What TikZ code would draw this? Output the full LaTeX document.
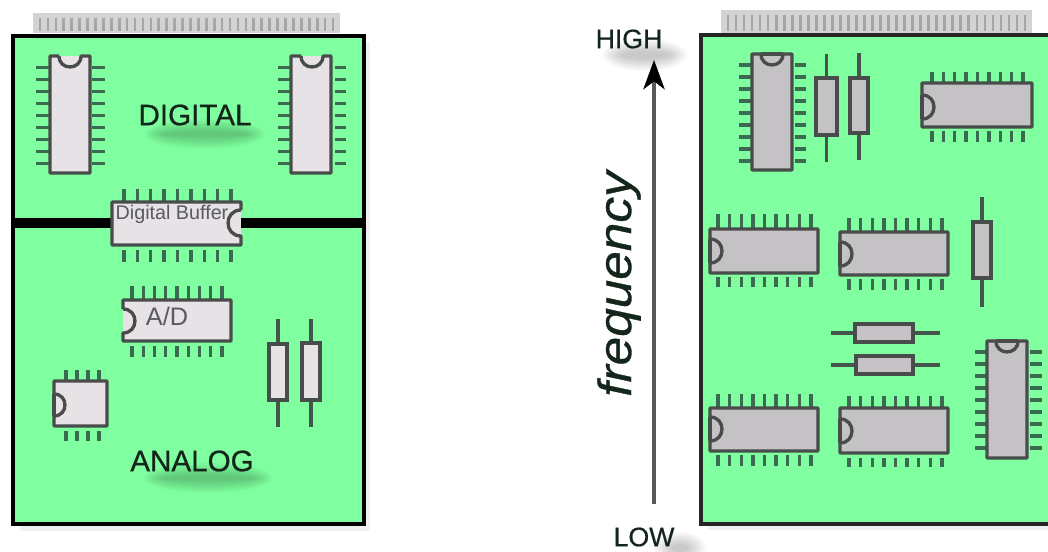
\documentclass[tikz,border=0pt]{standalone}
\usepackage{fontspec}
\setmainfont{Liberation Sans}
\newfontfamily\heavysans[FakeBold=0.7]{Liberation Sans}
\usetikzlibrary{arrows.meta}
\definecolor{boardgreen}{HTML}{7FFF9F}
\definecolor{chipPale}{HTML}{E6E2E6}
\definecolor{chipSlate}{HTML}{C4C2C4}
\definecolor{chipInk}{HTML}{484C4A}
\definecolor{pinInk}{HTML}{3A6A50}
\definecolor{stripGray}{HTML}{D4D2D4}
\definecolor{tickGray}{HTML}{A6A6A6}
\definecolor{labelInk}{HTML}{14261C}
\definecolor{chipText}{HTML}{5A5A62}
\tikzset{
  x=0.75pt,y=-0.75pt,
  board/.style={draw=black,line width=3.7pt,fill=boardgreen,line join=miter},
  boardline/.style={draw=black!85,line width=2.6pt},
  chipline/.style={draw=chipInk,line width=2.5pt},
  paleedge/.style={draw=none},
  slateedge/.style={},
  palerimedge/.style={},
  pale/.style={fill=chipPale},
  palerim/.style={fill=chipPale},
  slate/.style={fill=chipSlate},
  pin/.style={draw=pinInk,line width=2.6pt},
  lead/.style={draw=chipInk!70!pinInk,line width=2.7pt},
  strip/.style={fill=stripGray},
  tick/.style={draw=tickGray,line width=2pt},
  biglabel/.style={text=labelInk,inner sep=0pt,font=\fontsize{22.2}{26}\heavysans},
  sidelabel/.style={text=labelInk,inner sep=0pt,font=\fontsize{20}{24}\heavysans},
  inchip/.style={text=chipText,inner sep=0pt},
  axisline/.style={draw=black!65,line width=2.3pt},
}
% x0 y0 x1 y1 centre radius look(pale|slate)
\newcommand\bodyL[7]{%
  \fill[#7] (#1,#2) rectangle (#3,#4);
  \draw[chipline,line join=round] (#1,#5-#6) -- (#1,#2) -- (#3,#2) -- (#3,#4) -- (#1,#4) -- (#1,#5+#6)
    .. controls (#1+1.33*#6,#5+#6) and (#1+1.33*#6,#5-#6) .. (#1,#5-#6);
  \draw[chipline,#7edge] (#1,#5-#6) -- (#1,#5+#6);}
\newcommand\bodyR[7]{%
  \fill[#7] (#1,#2) rectangle (#3,#4);
  \draw[chipline,line join=round] (#3,#5-#6) -- (#3,#2) -- (#1,#2) -- (#1,#4) -- (#3,#4) -- (#3,#5+#6)
    .. controls (#3-1.33*#6,#5+#6) and (#3-1.33*#6,#5-#6) .. (#3,#5-#6);}
\newcommand\bodyT[7]{%
  \fill[#7] (#1,#2) rectangle (#3,#4);
  \draw[chipline,line join=round] (#5-#6,#2) -- (#1,#2) -- (#1,#4) -- (#3,#4) -- (#3,#2) -- (#5+#6,#2)
    .. controls (#5+#6,#2+1.33*#6) and (#5-#6,#2+1.33*#6) .. (#5-#6,#2);
  \draw[chipline,#7edge] (#5-#6,#2) -- (#5+#6,#2);}
% rows of pins: x0 x1 n y0 y1  /  columns: y0 y1 n x0 x1
\newcommand\pinrow[5]{\pgfmathtruncatemacro\nn{#3-1}%
  \foreach \i in {0,...,\nn}{\draw[pin] ({#1+(#2-#1)*\i/\nn},#4) -- ({#1+(#2-#1)*\i/\nn},#5);}}
\newcommand\pincol[5]{\pgfmathtruncatemacro\nn{#3-1}%
  \foreach \i in {0,...,\nn}{\draw[pin] (#4,{#1+(#2-#1)*\i/\nn}) -- (#5,{#1+(#2-#1)*\i/\nn});}}
% vertical resistor: x0 y0 x1 y1 leadtop leadbottom look
\newcommand\resV[7]{%
  \draw[lead] ({(#1+#3)/2},#5) -- ({(#1+#3)/2},#6);
  \draw[chipline,#7] (#1,#2) rectangle (#3,#4);}
\newcommand\resH[7]{%
  \draw[lead] (#5,{(#2+#4)/2}) -- (#6,{(#2+#4)/2});
  \draw[chipline,#7] (#1,#2) rectangle (#3,#4);}
% connector strip
\newcommand\stripbar[5]{%
  \fill[strip] (#1,#2) rectangle (#3,#4);
  \pgfmathsetmacro\stp{(#3-#1-14)/#5}%
  \foreach \i in {0,...,#5}{\draw[tick] ({#1+7+\i*\stp},#2+5) -- ({#1+7+\i*\stp},#4-2);}}
% blurred shadow
\newcommand\softblob[4]{%
  \foreach \k in {0,...,7}{\fill[black,opacity=.026] (#1,#2) ellipse [x radius={#3+\k*2.6},y radius={#4+\k*1.7}];}}
\begin{document}
\begin{tikzpicture}
\path[use as bounding box,fill=white] (0,0) rectangle (1048,552);

%% ---------- left board ----------
\fill[black!6] (20,43) rectangle (370,531);
\stripbar{33}{13}{340}{33}{37}
\draw[board] (13,36) rectangle (364,524);
\draw[draw=black,line width=7.2pt] (13,223) -- (364,223);

\softblob{205}{134}{42}{3}
\softblob{208}{478}{46}{3}
\node[biglabel] (digital) at (195,115) {DIGITAL};
\node[biglabel] (analog) at (192,461) {ANALOG};

\pincol{67.3}{163.3}{9}{36}{49}
\pincol{67.3}{163.3}{9}{92}{105}
\bodyT{50}{56}{90}{173}{70}{11}{pale}
\pincol{67.3}{163.3}{9}{278}{290}
\pincol{67.3}{163.3}{9}{335}{346}
\bodyT{291}{56}{331}{173}{312}{11}{pale}

\pinrow{124}{231}{9}{189}{201}
\pinrow{124}{231}{9}{250}{262}
\bodyR{112}{202}{241}{245}{223}{13}{pale}
\node[inchip,font=\fontsize{14.8}{17}\selectfont] (buffer) at (172,214) {Digital Buffer};

\pinrow{132}{222}{9}{286}{299}
\pinrow{132}{222}{9}{346}{357}
\bodyL{123}{300}{231}{341}{321}{12}{pale}
\node[inchip,font=\fontsize{19}{22}\selectfont] (adc) at (167,316) {A/D};

\pinrow{66}{99}{4}{370}{381}
\pinrow{66}{99}{4}{431}{441}
\bodyL{54}{381}{107}{426}{405}{11}{palerim}

\resV{269}{344}{287}{400}{319}{427}{pale}
\resV{302}{343}{320}{400}{319}{427}{pale}

%% ---------- axis ----------
\softblob{645}{55}{24}{4}
\softblob{680}{548}{8}{4}
\node[sidelabel] (high) at (629,39) {HIGH};
\node[sidelabel] (low) at (644,537) {LOW};
\node[rotate=90,text=labelInk,inner sep=0pt,font=\fontsize{35}{40}\heavysans\itshape] (freq) at (619,284) {\scalebox{1.1}[1]{frequency}};
\coordinate (axisfoot) at (654,504);
\coordinate (axishead) at (654,60);
\draw[axisline,-{Stealth[length=22pt,width=16pt,inset=6pt,black,fill=black]}] (axisfoot) -- (axishead);

%% ---------- right board ----------
\stripbar{721}{10}{1032}{33}{37}
\fill[boardgreen] (701,35) rectangle (1048,524);
\fill[black!6] (708,526) rectangle (1048,530);
\draw[boardline] (1048,35) -- (701,35) -- (701,524) -- (1048,524);

\pincol{65}{161}{9}{739}{751}
\pincol{65}{161}{9}{795}{806}
\bodyT{752}{54}{792}{170}{772}{11}{slate}
\resV{816}{78}{837}{135}{54}{162}{slate}
\resV{850}{78}{868}{133}{53}{160}{slate}

\pinrow{932}{1023}{9}{72}{83}
\pinrow{932}{1023}{9}{131}{142}
\bodyL{922}{83}{1032}{127}{107}{12}{slate}

\pinrow{718}{811}{9}{214}{229}
\pinrow{718}{811}{9}{277}{287}
\bodyL{710}{229}{818}{273}{251}{12}{slate}

\pinrow{849}{942}{9}{218}{232}
\pinrow{849}{942}{9}{279}{290}
\bodyL{840}{232}{948}{275}{254}{12}{slate}

\resV{973}{222}{991}{278}{197}{307}{slate}
\resH{855}{324}{913}{342}{831}{940}{slate}
\resH{856}{356}{913}{374}{831}{940}{slate}

\pinrow{718}{811}{9}{394}{408}
\pinrow{718}{811}{9}{455}{466}
\bodyL{710}{408}{818}{451}{429}{12}{slate}

\pinrow{849}{942}{9}{396}{408}
\pinrow{849}{942}{9}{458}{467}
\bodyL{840}{408}{948}{453}{431}{12}{slate}

\pincol{352}{448}{9}{975}{986}
\pincol{352}{448}{9}{1030}{1042}
\bodyT{987}{341}{1027}{458}{1007}{11}{slate}
\end{tikzpicture}
\end{document}
